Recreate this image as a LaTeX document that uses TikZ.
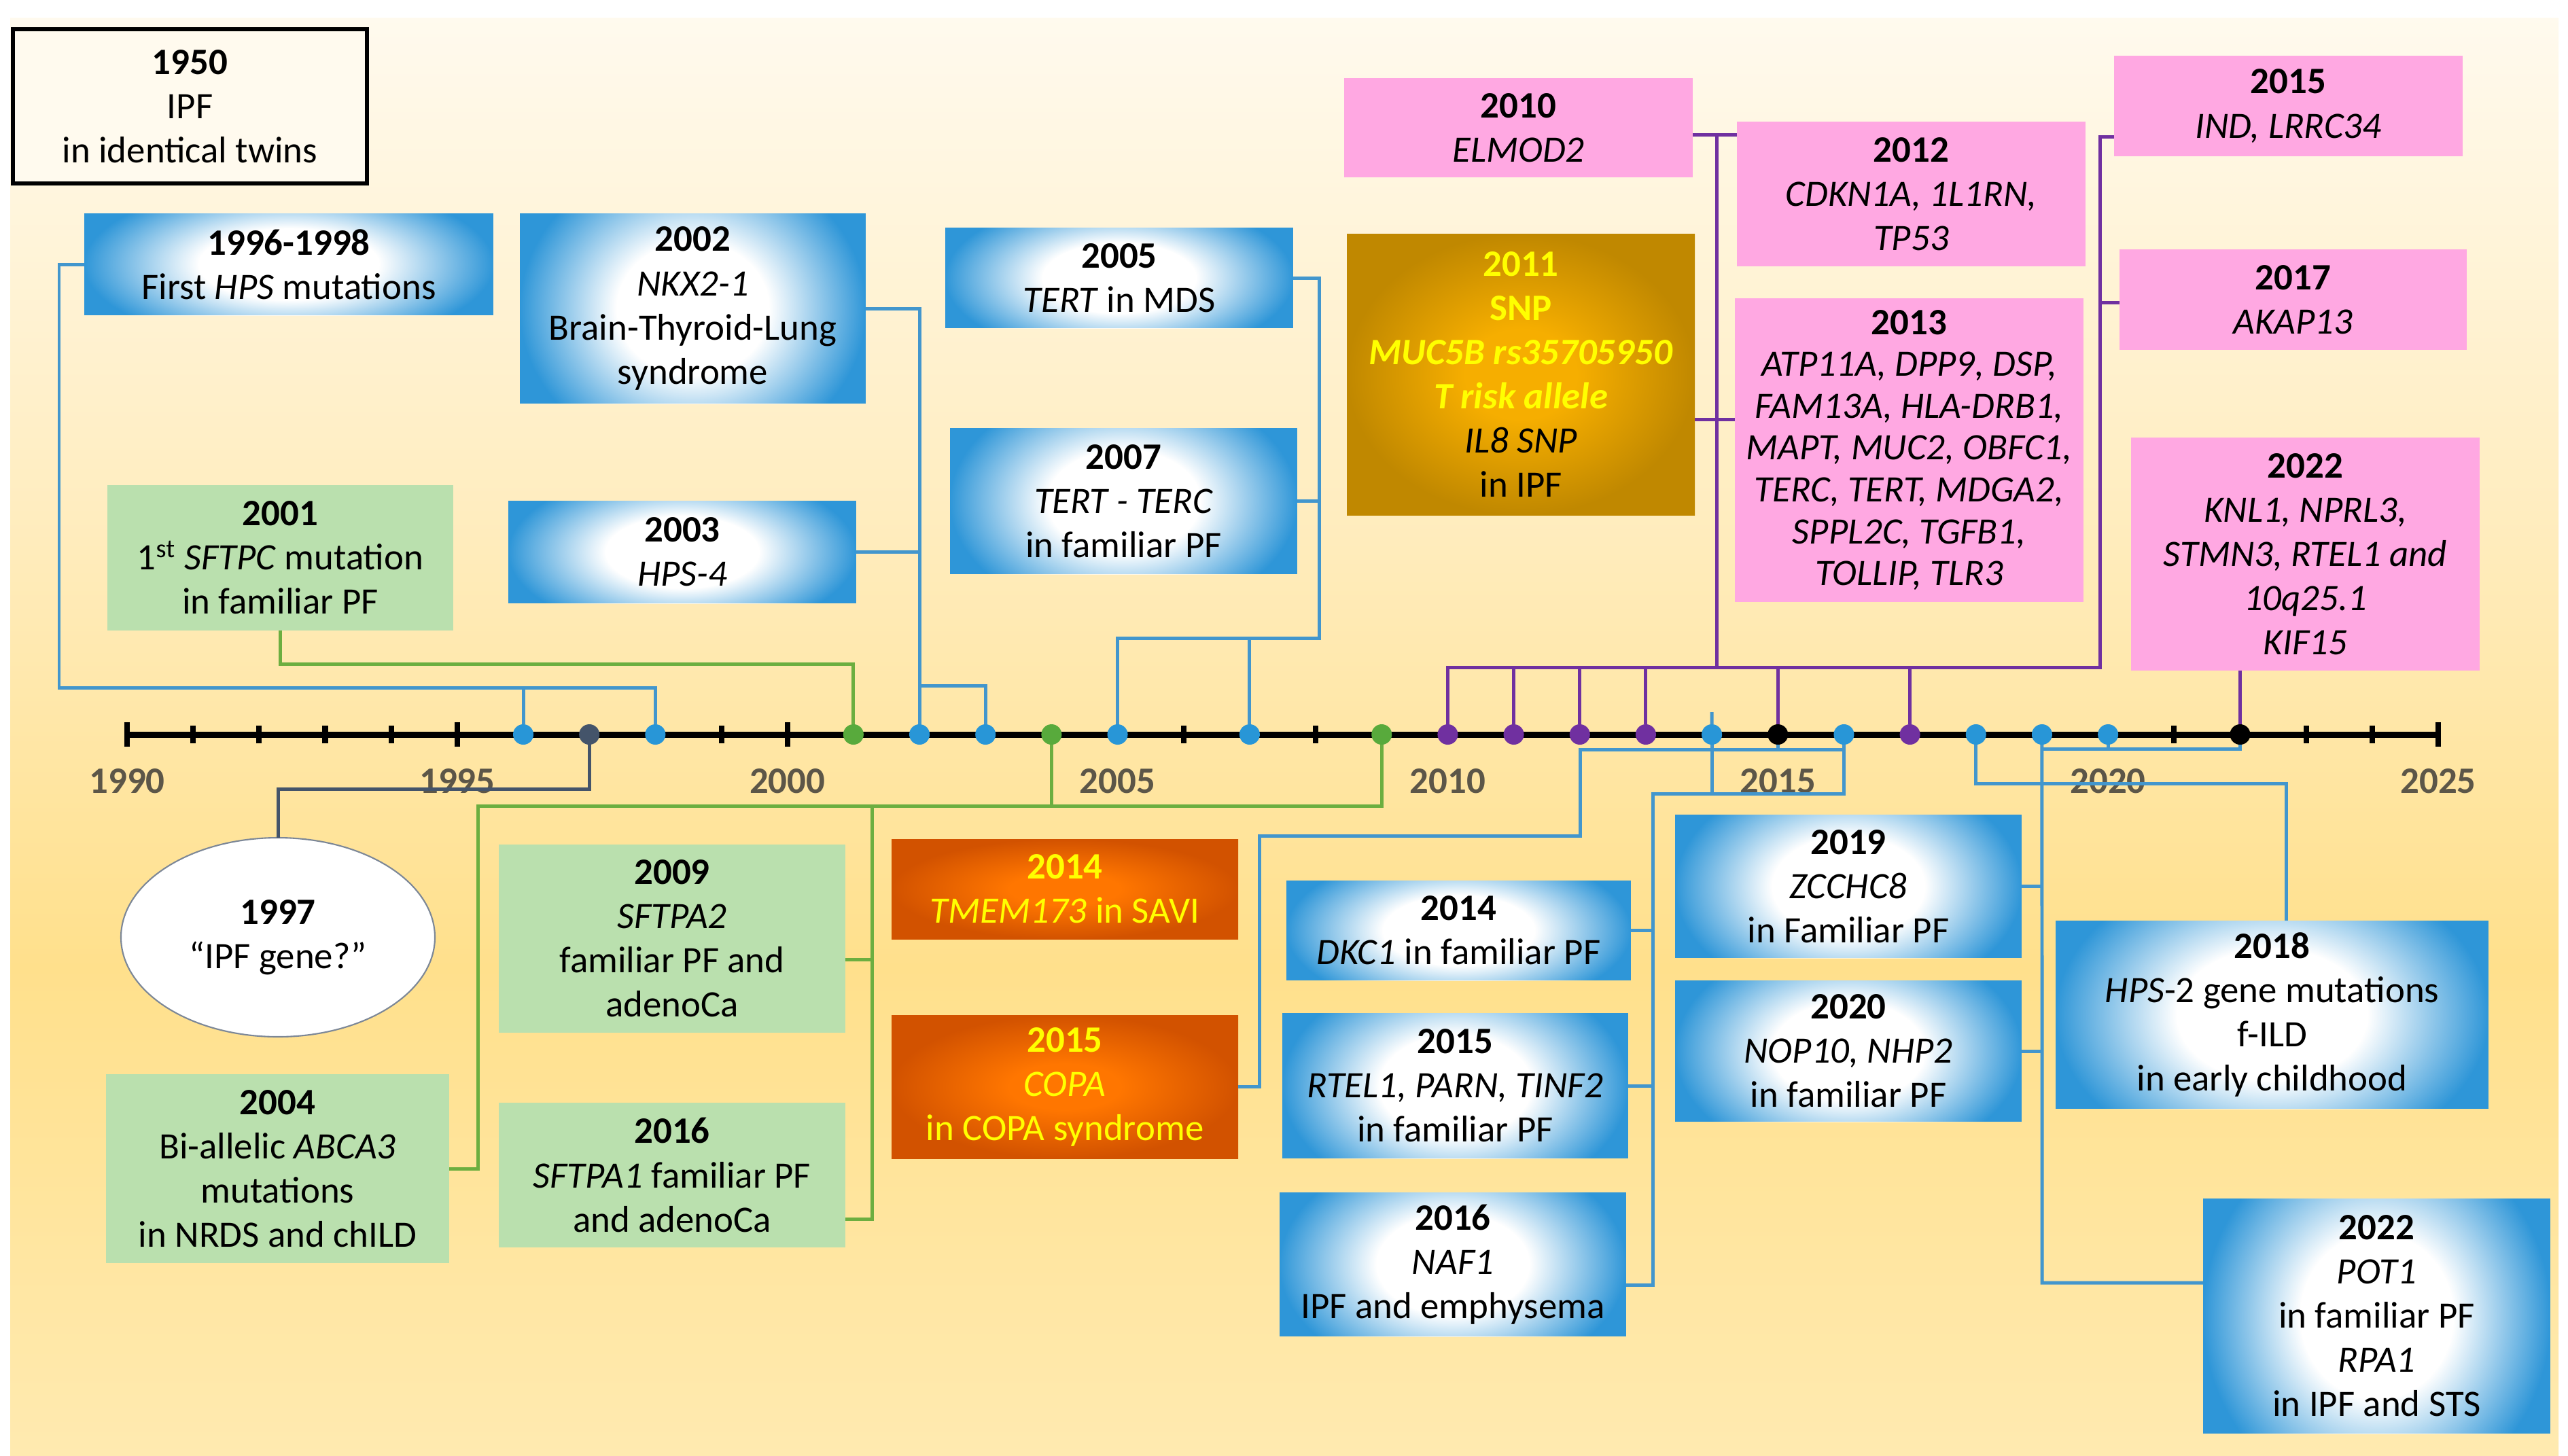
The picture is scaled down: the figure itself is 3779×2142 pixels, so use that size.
\documentclass[tikz,border=0pt]{standalone}
\usepackage{fontspec}
\setmainfont{Carlito}
\usetikzlibrary{calc,shapes.geometric,fadings}
\definecolor{bl}{RGB}{46,150,216}
\definecolor{cblue}{RGB}{66,150,205}
\definecolor{cgreen}{RGB}{108,174,64}
\definecolor{cpurple}{RGB}{112,48,160}
\definecolor{cslate}{RGB}{68,84,106}
\definecolor{dblue}{RGB}{40,150,215}
\definecolor{dgreen}{RGB}{88,170,60}
\definecolor{gboxc}{RGB}{186,224,174}
\definecolor{pboxc}{RGB}{255,168,226}
\definecolor{ylw}{RGB}{255,255,0}
\definecolor{yearc}{RGB}{92,86,72}
\definecolor{bgtop}{RGB}{255,250,238}
\definecolor{bgmid}{RGB}{255,237,192}
\definecolor{bgstr}{RGB}{255,224,140}
\definecolor{bgbot}{RGB}{255,234,176}
\definecolor{orin}{RGB}{255,118,0}
\definecolor{orout}{RGB}{210,82,0}
\definecolor{goin}{RGB}{246,174,0}
\definecolor{goout}{RGB}{192,136,0}
\pgfdeclareverticalshading{bgshade}{100bp}{color(0bp)=(bgbot); color(25bp)=(bgbot); color(42bp)=(bgstr); color(58bp)=(bgmid); color(75bp)=(bgtop); color(100bp)=(bgtop)}
\pgfdeclareradialshading{goldsh}{\pgfpointorigin}{color(0bp)=(goin); color(8bp)=(goin); color(25bp)=(goout); color(50bp)=(goout)}
\pgfdeclareradialshading{orangesh}{\pgfpointorigin}{color(0bp)=(orin); color(8bp)=(orin); color(25bp)=(orout); color(50bp)=(orout)}
\pgfdeclareradialshading{boxfadeshade}{\pgfpointorigin}{color(0bp)=(white); color(11bp)=(white); color(25bp)=(black); color(50bp)=(black)}
\pgfdeclarefading{boxfade}{\pgfuseshading{boxfadeshade}}
\begin{document}
\begin{tikzpicture}[x=0.01cm,y=-0.01cm,
  txt/.style={font=\fontsize{15.6}{18.5}\selectfont, align=center, inner sep=0pt, outer sep=0pt},
  sz/.style 2 args={minimum width=#1*0.01cm, minimum height=#2*0.01cm},
  bbox/.style={txt, rectangle, fill=bl, path picture={\fill[white, path fading=boxfade] ($(path picture bounding box.north west)!-0.3!(path picture bounding box.south west)$) rectangle ($(path picture bounding box.south east)!-0.3!(path picture bounding box.north east)$);}},
  grbox/.style={txt, rectangle, fill=gboxc},
  pkbox/.style={txt, rectangle, fill=pboxc},
  orbox/.style={txt, rectangle, shading=orangesh, text=ylw},
  gdbox/.style={txt, rectangle, shading=goldsh},
  dot/.style={circle, inner sep=0pt, outer sep=0pt, minimum size=0.3cm},
  yearlab/.style={font=\fontsize{15.6}{18.5}\selectfont\bfseries, text=yearc},
  cb/.style={draw=cblue, line width=1.42pt},
  cg/.style={draw=cgreen, line width=1.42pt},
  cp/.style={draw=cpurple, line width=1.42pt},
  cs/.style={draw=cslate, line width=1.42pt},
  majortick/.style={line width=2.3pt},
  minortick/.style={line width=2.3pt}]
\useasboundingbox (0,0) rectangle (3779,2142);
\fill[white] (0,0) rectangle (3779,2142);
\shade[shading=bgshade] (15,26) rectangle (3765,2142);

% timeline
\draw[line width=2.56pt] (187,1081) -- (3588,1081);
\foreach \y in {1990,1995,2000,2025}
  \draw[majortick] ({187+97.17*(\y-1990)},1063) -- ({187+97.17*(\y-1990)},1099);
\foreach \y in {1991,1992,1993,1994,1999,2006,2008,2021,2023,2024}
  \draw[minortick] ({187+97.17*(\y-1990)},1068) -- ({187+97.17*(\y-1990)},1094);
\foreach \y in {1990,1995,2000,2005,2010,2015,2020,2025}
  \node[yearlab] (y\y) at ({187+97.17*(\y-1990)},1150) {\y};
\foreach \y/\c in {1996/dblue,1997/cslate,1998/dblue,2001/dgreen,2002/dblue,2003/dblue,2004/dgreen,2005/dblue,2007/dblue,2009/dgreen,2010/cpurple,2011/cpurple,2012/cpurple,2013/cpurple,2014/dblue,2015/black,2016/dblue,2017/cpurple,2018/dblue,2019/dblue,2020/dblue,2022/black}
  \node[dot, fill=\c] (d\y) at ({187+97.17*(\y-1990)},1081) {};

% boxes top
\node[txt, sz={521}{227}, draw=black, line width=1.7pt, fill=bgtop] (b1950) at (279.5,156.5) {\textbf{1950}\\IPF\\in identical twins};
\node[bbox, sz={602}{150}] (b1996) at (425,389) {\textbf{1996-1998}\\First \textit{HPS} mutations};
\node[bbox, sz={509}{280}] (b2002) at (1019.5,454) {\textbf{2002}\\\textit{NKX2-1}\\Brain-Thyroid-Lung\\syndrome};
\node[grbox, sz={509}{214}] (b2001) at (412.5,821) {\textbf{2001}\\1\textsuperscript{st} \textit{SFTPC} mutation\\in familiar PF};
\node[bbox, sz={512}{151}] (b2003) at (1004,812.5) {\textbf{2003}\\\textit{HPS-4}};
\node[bbox, sz={512}{148}] (b2005) at (1647,409) {\textbf{2005}\\\textit{TERT} in MDS};
\node[bbox, sz={511}{215}] (b2007) at (1653.5,737.5) {\textbf{2007}\\\textit{TERT - TERC}\\in familiar PF};
\node[pkbox, sz={513}{146}] (b2010) at (2234.5,188) {\textbf{2010}\\\textit{ELMOD2}};
\node[gdbox, sz={512}{414}] (b2011) at (2238,551) {\textcolor{ylw}{\textbf{2011}}\\\textcolor{ylw}{\textbf{SNP}}\\\textcolor{ylw}{\textbf{\textit{MUC5B rs35705950}}}\\\textcolor{ylw}{\textbf{\textit{T risk allele}}}\\\textit{IL8 SNP}\\in IPF};
\node[pkbox, sz={513}{213}] (b2012) at (2812.5,285.5) {\textbf{2012}\\\textit{CDKN1A, 1L1RN,}\\\textit{TP53}};
\node[pkbox, sz={513}{447}, font=\fontsize{15.6}{17.5}\selectfont] (b2013) at (2809.5,662.5) {\textbf{2013}\\\textit{ATP11A, DPP9, DSP,}\\\textit{FAM13A, HLA-DRB1,}\\\textit{MAPT, MUC2, OBFC1,}\\\textit{TERC, TERT, MDGA2,}\\\textit{SPPL2C, TGFB1,}\\\textit{TOLLIP, TLR3}};
\node[pkbox, sz={513}{148}] (b2015i) at (3367.5,156) {\textbf{2015}\\\textit{IND, LRRC34}};
\node[pkbox, sz={511}{148}] (b2017) at (3374.5,441) {\textbf{2017}\\\textit{AKAP13}};
\node[pkbox, sz={513}{343}] (b2022k) at (3392.5,815.5) {\textbf{2022}\\\textit{KNL1, NPRL3,}\\\textit{STMN3, RTEL1 and}\\\textit{10q25.1}\\\textit{KIF15}};

% boxes bottom
\node[txt, ellipse, sz={462}{293}, fill=white, draw=cslate!70, line width=0.6pt] (e1997) at (409,1379.5) {\textbf{1997}\\“IPF gene?”};
\node[grbox, sz={510}{277}] (b2009) at (989,1381.5) {\textbf{2009}\\\textit{SFTPA2}\\familiar PF and\\adenoCa};
\node[grbox, sz={505}{278}] (b2004) at (408.5,1720) {\textbf{2004}\\Bi-allelic \textit{ABCA3}\\mutations\\in NRDS and chILD};
\node[grbox, sz={510}{213}] (b2016g) at (989,1729.5) {\textbf{2016}\\\textit{SFTPA1} familiar PF\\and adenoCa};
\node[orbox, sz={510}{147}] (o2014) at (1567,1308.5) {\textbf{2014}\\\textit{TMEM173} in SAVI};
\node[orbox, sz={510}{211}] (o2015) at (1567,1599.5) {\textbf{2015}\\\textit{COPA}\\in COPA syndrome};
\node[bbox, sz={507}{147}] (b2014d) at (2146.5,1369.5) {\textbf{2014}\\\textit{DKC1} in familiar PF};
\node[bbox, sz={509}{214}] (b2015r) at (2141.5,1598) {\textbf{2015}\\\textit{RTEL1, PARN, TINF2}\\in familiar PF};
\node[bbox, sz={510}{212}] (b2016n) at (2138,1861) {\textbf{2016}\\\textit{NAF1}\\IPF and emphysema};
\node[bbox, sz={510}{211}] (b2019) at (2720,1304.5) {\textbf{2019}\\\textit{ZCCHC8}\\in Familiar PF};
\node[bbox, sz={510}{208}] (b2020) at (2720,1547) {\textbf{2020}\\\textit{NOP10, NHP2}\\in familiar PF};
\node[bbox, sz={637}{277}] (b2018) at (3343.5,1493.5) {\textbf{2018}\\\textit{HPS}-2 gene mutations\\f-ILD\\in early childhood};
\node[bbox, sz={511}{346}] (b2022p) at (3497.5,1937) {\textbf{2022}\\\textit{POT1}\\in familiar PF\\\textit{RPA1}\\in IPF and STS};

% ---- connectors ----
% blue A
\coordinate (jA) at (87,1012);
\draw[cb] (b1996.west) -| (jA) -| (d1998);
\draw[cb] (d1996) -- (d1996 |- jA);
% blue B
\coordinate (jB) at (1353,1009);
\draw[cb] (b2002.east) -| (d2002);
\draw[cb] (b2003.east) -- (b2003.east -| d2002);
\draw[cb] (d2003) |- (jB);
% blue C
\coordinate (jC) at (1941,939);
\draw[cb] (b2005.east) -| (jC) -| (d2005);
\draw[cb] (b2007.east) -- (b2007.east -| jC);
\draw[cb] (d2007) -- (d2007 |- jC);
% blue D
\coordinate (jD1) at (1853,1230);
\coordinate (jD2) at (2325,1103);
\draw[cb] (o2015.east) -| (jD1) -| (jD2) -| (d2016);
\draw[cb] (d2015) -- (d2015 |- jD2);
% blue E
\coordinate (jE) at (2432,1168);
\coordinate (kE) at (2432,1891);
\coordinate (kE2) at (2519,1048);
\draw[cb] (b2014d.east) -| (jE) -| (d2016);
\draw[cb] (jE) -- (kE) -- (kE -| b2016n.east);
\draw[cb] (b2015r.east) -- (b2015r.east -| jE);
\draw[cb] (kE2) -- (d2014);
\draw[cb] (d2014) -- (d2014 |- jE);
% blue F
\coordinate (jF) at (3364,1153);
\draw[cb] (d2018) |- (jF) -- (jF |- b2018.north);
% blue G
\coordinate (jG) at (3005,1102);
\coordinate (kG) at (3005,1888);
\draw[cb] (d2019) -- (kG) -- (kG -| b2022p.west);
\draw[cb] (jG) -- (jG -| d2022) -- (d2022);
\draw[cb] (d2020) -- (d2020 |- jG);
\draw[cb] (b2019.east) -- (b2019.east -| jG);
\draw[cb] (b2020.east) -- (b2020.east -| jG);
% green H
\coordinate (jH) at (410,977);
\draw[cg] (b2001.south) -- (b2001.south |- jH) -| (d2001);
% green I
\coordinate (jI) at (703,1186);
\coordinate (kI1) at (1283,1412);
\coordinate (kI2) at (1283,1794);
\draw[cg] (b2004.east) -| (jI) -| (d2009);
\draw[cg] (d2004) -- (d2004 |- jI);
\draw[cg] (kI2 -| b2016g.east) -- (kI2) -- (kI2 |- jI);
\draw[cg] (kI1 -| b2009.east) -- (kI1);
% slate J
\coordinate (jJ) at (409,1161);
\draw[cs] (d1997) |- (jJ) -- (e1997.north);
% purple K
\coordinate (kK1) at (2526,198);
\coordinate (kK2) at (2526,617);
\coordinate (jK) at (3090,982);
\coordinate (kK3) at (3090,201);
\coordinate (kK4) at (3090,445);
\draw[cp] (kK1 -| b2010.east) -- (kK1 -| b2012.west);
\draw[cp] (kK2 -| b2011.east) -- (kK2 -| b2013.west);
\draw[cp] (kK1) -- (kK1 |- jK);
\draw[cp] (d2010) |- (jK) -- (kK3) -- (kK3 -| b2015i.west);
\draw[cp] (kK4) -- (kK4 -| b2017.west);
\foreach \y in {2011,2012,2013,2015,2017}
  \draw[cp] (d\y) -- (d\y |- jK);
% purple L
\draw[cp] (d2022) -- (d2022 |- b2022k.south);
\end{tikzpicture}
\end{document}
